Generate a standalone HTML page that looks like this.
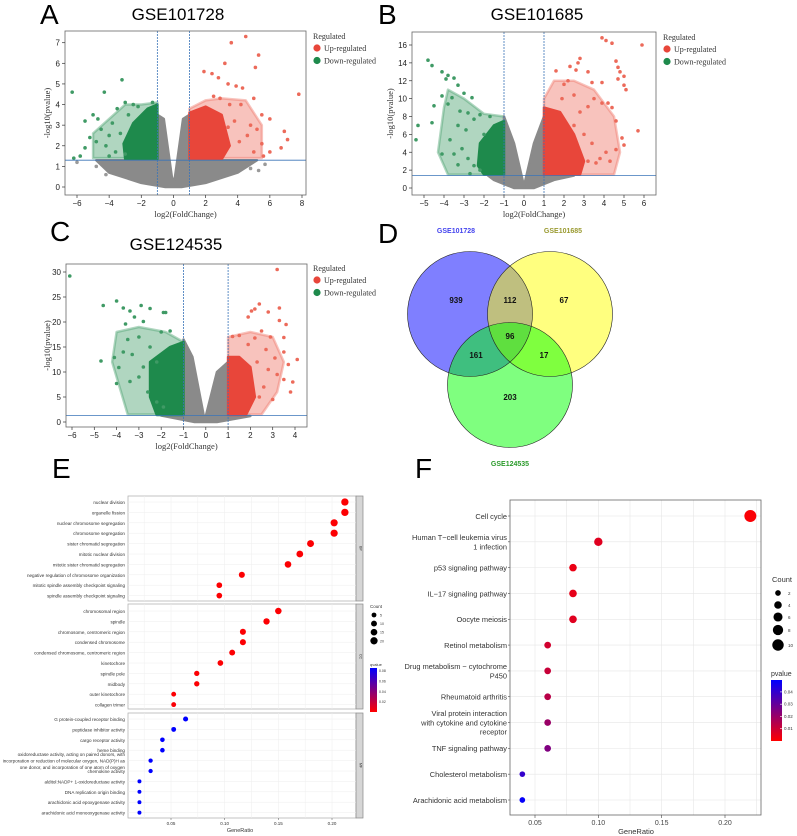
<!DOCTYPE html>
<html><head><meta charset="utf-8"><style>
html,body{margin:0;padding:0;background:#fff;}
svg{display:block;font-family:"Liberation Sans",sans-serif;}
.serif{font-family:"Liberation Serif",serif;}
</style></head><body>
<svg id="fig" width="797" height="836" viewBox="0 0 797 836" xmlns="http://www.w3.org/2000/svg">
<defs>
<linearGradient id="gradE" x1="0" y1="0" x2="0" y2="1"><stop offset="0" stop-color="#0000ff"/><stop offset="1" stop-color="#ff0000"/></linearGradient>
<linearGradient id="gradF" x1="0" y1="0" x2="0" y2="1"><stop offset="0" stop-color="#0000ff"/><stop offset="1" stop-color="#ff0000"/></linearGradient>
</defs>
<text x="40" y="24" font-size="28">A</text>
<text x="178" y="20" font-size="17" text-anchor="middle">GSE101728</text>
<text x="378" y="24" font-size="28">B</text>
<text x="537" y="20" font-size="17" text-anchor="middle">GSE101685</text>
<text x="50" y="241" font-size="28">C</text>
<text x="176" y="250" font-size="17" text-anchor="middle">GSE124535</text>
<text x="378" y="243" font-size="28">D</text>
<text x="52" y="478" font-size="28">E</text>
<text x="415" y="478" font-size="28">F</text>
<g id="root"></g>
</svg>
<script>
// ---------- Volcano data (log2FC, -log10 p) ----------
const aXTicks=[-6,-4,-2,0,2,4,6,8];
const aYTicks=[0,1,2,3,4,5,6,7];
const aGray=[[-4.8,1.3],[-1,1.3],[-1,3.5],[-0.6,3.3],[-0.1,0.5],[0,0.15],[0.1,0.5],[0.6,3.3],[1,3.5],[1,1.3],[5.2,1.3],[4,0.7],[2,0.2],[0.5,0],[-0.5,0],[-2,0.2],[-4,0.7]];
const aGreenHalo=[[-5,1.4],[-1,1.4],[-1,4.1],[-2,4],[-3,4],[-4,3.3],[-5,2.6]];
const aRedHalo=[[1,1.4],[5.5,1.4],[5.5,3],[4.5,4.2],[3,4.3],[2,4.2],[1,3.8]];
const aGreen=[[-3,1.35],[-1,1.35],[-1,4],[-1.6,3.8],[-2.5,3.1],[-3.1,2.1]];
const aRed=[[1,1.35],[3,1.35],[3.5,2],[3,3.5],[2,3.9],[1,3.6]];
const aDown=[[-6.3,4.6],[-4.3,4.6],[-3.2,5.2],[-5.5,3.2],[-5,3.5],[-4.7,3.3],[-4.5,2.8],[-4,2.5],[-3.8,3.1],[-3.5,3.8],[-3,4.1],[-2.5,4.0],[-2.8,3.5],[-5.5,1.9],[-5.8,1.5],[-6.2,1.4],[-4.8,2.2],[-4.2,2.0],[-3.3,2.6],[-3.6,1.7],[-2.2,3.9],[-1.3,4.1],[-3,1.6],[-4,1.5],[-5.2,2.4]];
const aUp=[[4.5,7.3],[3.6,7.0],[5.3,6.4],[5.1,5.8],[3.2,6.0],[1.9,5.6],[2.4,5.5],[2.8,5.3],[3.4,5.0],[3.9,4.9],[4.3,4.8],[7.8,4.5],[2.5,4.4],[2.9,4.3],[3.5,4.0],[4.2,4.0],[5,4.3],[5.5,3.5],[6,3.3],[5.2,2.8],[6.9,2.7],[7.1,2.3],[6.7,1.9],[6,1.7],[4.6,2.5],[3.8,3.2],[4.8,3.0],[5.5,2.1],[4.1,2.2],[3.4,2.9],[5,1.7],[5.6,1.5]];
const aNs=[[-6,1.2],[-4.8,1.0],[-4.2,0.6],[5.7,1.1],[4.8,0.9],[5.3,0.8]];

const bXTicks=[-5,-4,-3,-2,-1,0,1,2,3,4,5,6];
const bYTicks=[0,2,4,6,8,10,12,14,16];
const bGray=[[-1.8,1.4],[-1,1.4],[-1,8],[-0.5,5],[0,0.2],[0.5,5],[1,8],[1,1.4],[2.5,1.4],[1.5,0.9],[0.5,0],[-0.5,0],[-1.5,0.9]];
const bGreenHalo=[[-3.8,1.5],[-1,1.5],[-1,8],[-2,8.3],[-3,10],[-3.8,11],[-4,9],[-4.3,4]];
const bRedHalo=[[1,1.5],[4.5,1.5],[4.8,4],[4.5,8],[3.5,11],[2.5,12],[1.5,12],[1,10]];
const bGreen=[[-2,1.5],[-1,1.5],[-1,7.5],[-1.5,7],[-2.2,5],[-2.3,2.5]];
const bRed=[[1,1.5],[2.8,1.5],[3,3],[2.5,6],[1.8,8.5],[1,9]];
const bDown=[[-4.8,14.3],[-4.6,13.7],[-4.1,13.0],[-3.8,12.6],[-3.5,12.3],[-3.9,12.2],[-3.3,11.5],[-4.1,10.3],[-3.6,10.1],[-3.0,10.6],[-2.6,10.1],[-4.5,9.2],[-3.8,9.4],[-3.2,8.6],[-2.8,8.4],[-2.5,7.7],[-5.3,7.0],[-4.6,7.3],[-3.3,7.0],[-2.9,6.5],[-5.4,5.4],[-3.7,5.4],[-4.1,3.8],[-3.5,3.8],[-3.1,4.4],[-2.8,3.3],[-2.5,2.5],[-3.3,2.6],[-2.2,2.0],[-2.7,1.6],[-2,6],[-1.7,8],[-2.2,8.2]];
const bUp=[[3.9,16.8],[4.1,16.5],[4.4,16.2],[5.9,16.0],[2.8,14.5],[2.7,14.0],[2.3,13.6],[1.6,13.1],[2.6,13.2],[3.2,13.0],[4.6,14.2],[4.7,13.5],[4.8,13.0],[4.7,12.2],[5.0,12.5],[5.0,11.5],[5.1,11.0],[2.2,12.0],[3.4,11.8],[3.9,11.8],[2.0,11.6],[1.9,10.0],[2.5,10.4],[3.5,10.0],[3.9,9.5],[4.2,9.5],[4.4,9.0],[3.2,9.1],[2.8,8.5],[4.6,7.5],[5.7,6.4],[4.9,5.6],[5.0,4.8],[4.6,4.3],[4.1,4.0],[3.8,3.3],[3.6,2.8],[4.3,3.0],[3.2,3.0],[2.5,7.0],[3,6],[3.4,5]];
const bNs=[];

const cXTicks=[-6,-5,-4,-3,-2,-1,0,1,2,3,4];
const cYTicks=[0,5,10,15,20,25,30];
const cGray=[[-2,1.3],[-1,1.3],[-1,16.5],[-0.6,13],[-0.05,0.3],[0.5,10],[1,12],[1,1.3],[2,1.2],[0.5,0],[-0.5,0]];
const cGreenHalo=[[-3.5,1.5],[-1,1.5],[-1,16],[-1.8,18],[-3,19],[-4,18],[-4.2,12],[-3.8,6]];
const cRedHalo=[[1,1.5],[2.5,1.5],[3.2,6],[3.5,12],[3,17],[2,18],[1,17]];
const cGreen=[[-2.2,1.4],[-1,1.4],[-1,16],[-1.6,15],[-2.5,12],[-2.5,5]];
const cRed=[[1,1.4],[1.8,1.4],[2.2,5],[2,11],[1.5,13],[1,13]];
const cDown=[[-6.1,29.2],[-4,24.2],[-4.6,23.3],[-3.7,22.8],[-3.4,22.2],[-2.9,23.3],[-2.5,22.7],[-1.9,21.9],[-1.8,21.9],[-3.2,21],[-2.8,20.1],[-3.6,19.6],[-4.7,12.2],[-4.1,12.9],[-3.9,10.9],[-4,7.7],[-3.4,8.1],[-3,9],[-3.5,16.5],[-3,17],[-2.5,15],[-2,18],[-1.6,18.2],[-2.2,12],[-3.3,13.5],[-2.6,6],[-2.2,4],[-1.9,3],[-3.7,14],[-2.8,11]];
const cUp=[[3.2,30.5],[3.3,22.8],[2.4,23.6],[2.2,22.6],[2.05,22.2],[2.8,22],[1.9,21],[3.6,19.5],[3.3,20.3],[2.9,17],[3.5,16.9],[3.5,14],[4.1,12.5],[3.7,11.5],[3.2,9.5],[3.5,8.5],[3.9,8],[3.8,6],[3.0,4.5],[2.5,18.2],[2.2,16.8],[1.5,17.3],[1.2,17.1],[2.7,14.5],[2.3,12],[2.8,10.5],[3.1,12.8],[2.6,7],[2.4,5],[1.9,15.5]];
const cNs=[];

// ---------- Venn ----------
const vennSets=["GSE101728","GSE101685","GSE124535"];
const vennCounts=[939,112,67,96,161,17,203];

// ---------- GO (E) ----------
const goBP=["nuclear division","organelle fission","nuclear chromosome segregation","chromosome segregation","sister chromatid segregation","mitotic nuclear division","mitotic sister chromatid segregation","negative regulation of chromosome organization","mitotic spindle assembly checkpoint signaling","spindle assembly checkpoint signaling"];
const goBPRatio=[0.212,0.212,0.202,0.202,0.180,0.170,0.159,0.116,0.095,0.095];
const goBPCount=[20,20,19,19,17,16,15,11,9,9];
const goBPP=[0.001,0.001,0.001,0.001,0.001,0.001,0.001,0.001,0.001,0.001];
const goCC=["chromosomal region","spindle","chromosome, centromeric region","condensed chromosome","condensed chromosome, centromeric region","kinetochore","spindle pole","midbody","outer kinetochore","collagen trimer"];
const goCCRatio=[0.150,0.139,0.117,0.117,0.107,0.096,0.074,0.074,0.0525,0.0525];
const goCCCount=[14,13,11,11,10,9,7,7,5,5];
const goCCP=[0.001,0.001,0.001,0.001,0.001,0.001,0.001,0.001,0.001,0.002];
const goMF=["G protein-coupled receptor binding","peptidase inhibitor activity","cargo receptor activity","heme binding","oxidoreductase activity, acting on paired donors, with|incorporation or reduction of molecular oxygen, NAD(P)H as|one donor, and incorporation of one atom of oxygen","chemokine activity","alditol:NADP+ 1-oxidoreductase activity","DNA replication origin binding","arachidonic acid epoxygenase activity","arachidonic acid monooxygenase activity"];
const goMFRatio=[0.0636,0.0525,0.042,0.042,0.031,0.031,0.0206,0.0206,0.0206,0.0206];
const goMFCount=[6,5,4,4,3,3,2,2,2,2];
const goMFP=[0.085,0.085,0.085,0.085,0.085,0.085,0.085,0.085,0.085,0.085];
const goXTicks=[0.05,0.10,0.15,0.20];
const goCountLegend=[5,10,15,20];
const goPTicks=[0.08,0.06,0.04,0.02];

// ---------- KEGG (F) ----------
const kegg=["Cell cycle","Human T\u2212cell leukemia virus|1 infection","p53 signaling pathway","IL\u221217 signaling pathway","Oocyte meiosis","Retinol metabolism","Drug metabolism \u2212 cytochrome|P450","Rheumatoid arthritis","Viral protein interaction|with cytokine and cytokine|receptor","TNF signaling pathway","Cholesterol metabolism","Arachidonic acid metabolism"];
const keggRatio=[0.22,0.10,0.08,0.08,0.08,0.06,0.06,0.06,0.06,0.06,0.04,0.04];
const keggCount=[11,5,4,4,4,3,3,3,3,3,2,2];
const keggP=[0.001,0.006,0.004,0.005,0.006,0.009,0.011,0.014,0.02,0.025,0.04,0.049];
const keggXTicks=[0.05,0.10,0.15,0.20];
const keggCountLegend=[2,4,6,8,10];
const keggPTicks=[0.04,0.03,0.02,0.01];

const NS="http://www.w3.org/2000/svg";
const root=document.getElementById('root');
function mk(tag,attrs,parent){const e=document.createElementNS(NS,tag);for(const k in attrs)e.setAttribute(k,attrs[k]);(parent||root).appendChild(e);return e;}
function lin(d0,d1,p0,p1){return v=>p0+(v-d0)/(d1-d0)*(p1-p0);}
function pcolor(p,max){const t=Math.max(0,Math.min(1,p/max));return `rgb(${Math.round(255*(1-t))},0,${Math.round(255*t)})`;}

function volcano(id,cfg,d){
  const g=mk('g',{});
  
  
  const sx=lin(cfg.dx[0],cfg.dx[1],cfg.px[0],cfg.px[1]);
  const sy=lin(cfg.dy[0],cfg.dy[1],cfg.py[0],cfg.py[1]);
  const B=cfg.box;
  const poly=(pts,fill,name,op)=>{const p=mk('polygon',{points:pts.map(q=>sx(q[0])+','+sy(q[1])).join(' '),fill:fill,'fill-opacity':op,'stroke':fill,'stroke-opacity':op,'stroke-width':2.5,'stroke-linejoin':'round'},g);};
  poly(d.greenHalo,'#4fa573','down-scatter-zone',0.45);
  poly(d.redHalo,'#ef7b6c','up-scatter-zone',0.45);
  poly(d.gray,'#8a8a8a','ns-region',1);
  const dots=(pts,fill,name)=>pts.forEach(q=>{const c=mk('circle',{cx:sx(q[0]),cy:sy(q[1]),r:1.8,fill:fill},g);});
  dots(d.ns,'#9a9a9a','ns-point');
  poly(d.green,'#1e8a4c','down-region',1);
  poly(d.red,'#e8463a','up-region',1);
  dots(d.down,'#3f9a65','down-point');
  dots(d.up,'#ec6a5a','up-point');
  [-1,1].forEach(v=>{const l=mk('line',{x1:sx(v),x2:sx(v),y1:B[1],y2:B[3],stroke:'#3a74b8','stroke-width':0.8,'stroke-dasharray':'2,1'},g);});
  const h=mk('line',{x1:B[0],x2:B[2],y1:sy(cfg.pth),y2:sy(cfg.pth),stroke:'#3a74b8','stroke-width':0.8},g);
  const r=mk('rect',{x:B[0],y:B[1],width:B[2]-B[0],height:B[3]-B[1],fill:'none',stroke:'#666','stroke-width':0.8},g);
  d.xt.forEach(v=>{mk('line',{x1:sx(v),x2:sx(v),y1:B[3],y2:B[3]+3,stroke:'#333','stroke-width':0.7},g);const t=mk('text',{x:sx(v),y:B[3]+11,'font-size':8,'text-anchor':'middle',fill:'#222'},g);t.textContent=(v<0?'\u2212'+(-v):v);});
  d.yt.forEach(v=>{mk('line',{x1:B[0]-3,x2:B[0],y1:sy(v),y2:sy(v),stroke:'#333','stroke-width':0.7},g);const t=mk('text',{x:B[0]-5,y:sy(v)+3,'font-size':8,'text-anchor':'end',fill:'#222'},g);t.textContent=v;});
  const xl=mk('text',{x:(B[0]+B[2])/2,y:B[3]+22,'font-size':8.5,'text-anchor':'middle',class:'serif',fill:'#333'},g);xl.textContent='log2(FoldChange)';
  const yx=cfg.ylabX;const yy=(B[1]+B[3])/2;
  const yl=mk('text',{x:yx,y:yy,'font-size':8.5,'text-anchor':'middle',class:'serif',fill:'#333',transform:`rotate(-90 ${yx} ${yy})`},g);yl.textContent='-log10(pvalue)';
  const L=cfg.leg;
  const lt=mk('text',{x:L[0],y:L[1],'font-size':8,class:'serif',fill:'#333'},g);lt.textContent='Regulated';
  [['Up-regulated','#e8463a'],['Down-regulated','#1e8a4c']].forEach((e,i)=>{const yy2=L[1]+12+i*12.5;const c=mk('circle',{cx:L[0]+4,cy:yy2-3,r:3.6,fill:e[1]},g);const t=mk('text',{x:L[0]+11,y:yy2,'font-size':8,class:'serif',fill:'#333'},g);t.textContent=e[0];});
}
volcano('a',{dx:[-6,8],px:[77,302],dy:[0,7],py:[187,42.7],box:[65,31,306,195],pth:1.3,ylabX:50,leg:[313,39]},{gray:aGray,greenHalo:aGreenHalo,redHalo:aRedHalo,green:aGreen,red:aRed,down:aDown,up:aUp,ns:aNs,xt:aXTicks,yt:aYTicks});
volcano('b',{dx:[-5,6],px:[424,644],dy:[0,16],py:[188,45],box:[412,32,656,195],pth:1.4,ylabX:393,leg:[663,40]},{gray:bGray,greenHalo:bGreenHalo,redHalo:bRedHalo,green:bGreen,red:bRed,down:bDown,up:bUp,ns:bNs,xt:bXTicks,yt:bYTicks});
volcano('c',{dx:[-6,4],px:[72,295],dy:[0,30],py:[422,272],box:[66,264,307,427],pth:1.3,ylabX:50,leg:[313,271]},{gray:cGray,greenHalo:cGreenHalo,redHalo:cRedHalo,green:cGreen,red:cRed,down:cDown,up:cUp,ns:cNs,xt:cXTicks,yt:cYTicks});

// ---------- Venn ----------
(function(){
  const g=mk('g',{});
  const circ=[[470,314,'#0000ff'],[550,314,'#ffff00'],[510,385,'#00ff00']];
  circ.forEach((c,i)=>{const e=mk('circle',{cx:c[0],cy:c[1],r:62.5,fill:c[2],'fill-opacity':0.5,stroke:'none'},g);});
  circ.forEach(c=>mk('circle',{cx:c[0],cy:c[1],r:62.5,fill:'none',stroke:'#222','stroke-width':0.6},g));
  const lp=[[456,233,'#4444ee'],[563,233,'#9a9a30'],[510,466,'#2a9a2a']];
  vennSets.forEach((s,i)=>{const t=mk('text',{x:lp[i][0],y:lp[i][1],'font-size':7,'font-weight':'bold','text-anchor':'middle',fill:lp[i][2]},g);t.textContent=s;});
  const np=[[456,303],[510,303],[564,303],[510,339],[476,358],[544,358],[510,400]];
  vennCounts.forEach((v,i)=>{const t=mk('text',{x:np[i][0],y:np[i][1],'font-size':8,'font-weight':'bold','text-anchor':'middle',fill:'#111'},g);t.textContent=v;});
})();

// ---------- E: GO dot plot ----------
(function(){
  const g=mk('g',{});
  const sx=lin(0.05,0.20,171,332);
  const X0=128,X1=356;
  const panels=[[goBP,goBPRatio,goBPCount,goBPP,496,601,502,'BP'],[goCC,goCCRatio,goCCCount,goCCP,604,709,611,'CC'],[goMF,goMFRatio,goMFCount,goMFP,713,818,719,'MF']];
  const rr=c=>1.2+Math.sqrt(c)*0.55;
  panels.forEach(P=>{
    mk('rect',{x:X0,y:P[4],width:X1-X0,height:P[5]-P[4],fill:'#fff',stroke:'#aaa','stroke-width':0.7},g);
    const s=mk('rect',{x:X1,y:P[4],width:7,height:P[5]-P[4],fill:'#d6d6d6',stroke:'#888','stroke-width':0.7},g);
    const st=mk('text',{x:X1+3.5,y:(P[4]+P[5])/2,'font-size':3.5,'text-anchor':'middle',fill:'#333',transform:`rotate(90 ${X1+3.5} ${(P[4]+P[5])/2})`},g);st.textContent=P[7];
    [0.025,0.05,0.075,0.10,0.125,0.15,0.175,0.20].forEach(v=>mk('line',{x1:sx(v),x2:sx(v),y1:P[4],y2:P[5],stroke:'#eee','stroke-width':0.5},g));
    P[0].forEach((lab,i)=>{
      const y=P[6]+i*10.4;
      mk('line',{x1:X0,x2:X1,y1:y,y2:y,stroke:'#eee','stroke-width':0.5},g);
      const lines=lab.split('|');
      lines.forEach((ln,k)=>{const t=mk('text',{x:X0-3,y:y+2+(k-(lines.length-1)/2)*6.5,'font-size':4.6,'text-anchor':'end',fill:'#333'},g);t.textContent=ln;});
      const c=mk('circle',{cx:sx(P[1][i]),cy:y,r:rr(P[2][i]),fill:pcolor(P[3][i],0.085)},g);
      
      
    });
  });
  goXTicks.forEach(v=>{mk('line',{x1:sx(v),x2:sx(v),y1:818,y2:820,stroke:'#555','stroke-width':0.5},g);const t=mk('text',{x:sx(v),y:825,'font-size':4.5,'text-anchor':'middle',fill:'#333'},g);t.textContent=v.toFixed(2);});
  const xl=mk('text',{x:240,y:832,'font-size':5.5,'text-anchor':'middle',fill:'#333'},g);xl.textContent='GeneRatio';
  const ct=mk('text',{x:370,y:608,'font-size':4.5,fill:'#333'},g);ct.textContent='Count';
  goCountLegend.forEach((v,i)=>{const y=615+i*8.6;const c=mk('circle',{cx:374,cy:y,r:rr(v),fill:'#000'},g);const t=mk('text',{x:380,y:y+1.5,'font-size':3.5,fill:'#333'},g);t.textContent=v;});
  const pt=mk('text',{x:370,y:666,'font-size':4,fill:'#333'},g);pt.textContent='qvalue';
  const cb=mk('rect',{x:370,y:668,width:7,height:44,fill:'url(#gradE)'},g);
  const sp=lin(0,0.085,712,668);
  goPTicks.forEach(v=>{const t=mk('text',{x:379,y:sp(v)+1.5,'font-size':3.5,fill:'#333'},g);t.textContent=v.toFixed(2);});
})();

// ---------- F: KEGG dot plot ----------
(function(){
  const g=mk('g',{});
  const sx=lin(0.05,0.20,535,725);
  const sy=lin(0,11,516,800);
  const X0=510,X1=761,Y0=500,Y1=815;
  mk('rect',{x:X0,y:Y0,width:X1-X0,height:Y1-Y0,fill:'#fff'},g);
  [0.025,0.05,0.075,0.10,0.125,0.15,0.175,0.20,0.225].forEach(v=>{if(sx(v)>X0&&sx(v)<X1)mk('line',{x1:sx(v),x2:sx(v),y1:Y0,y2:Y1,stroke:'#e6e6e6','stroke-width':0.6},g);});
  const rr=c=>0.5+Math.sqrt(c)*1.65;
  kegg.forEach((lab,i)=>{
    const y=sy(i);
    mk('line',{x1:X0,x2:X1,y1:y,y2:y,stroke:'#e6e6e6','stroke-width':0.6},g);
    mk('line',{x1:X0-2,x2:X0,y1:y,y2:y,stroke:'#444','stroke-width':0.6},g);
    const lines=lab.split('|');
    lines.forEach((ln,k)=>{const t=mk('text',{x:X0-3,y:y+2.8+(k-(lines.length-1)/2)*9.3,'font-size':7.4,'text-anchor':'end',fill:'#333'},g);t.textContent=ln;});
    const c=mk('circle',{cx:sx(keggRatio[i]),cy:y,r:rr(keggCount[i]),fill:pcolor(keggP[i],0.05)},g);
    
    
  });
  const fr=mk('rect',{x:X0,y:Y0,width:X1-X0,height:Y1-Y0,fill:'none',stroke:'#666','stroke-width':0.8},g);
  keggXTicks.forEach(v=>{mk('line',{x1:sx(v),x2:sx(v),y1:Y1,y2:Y1+3,stroke:'#444','stroke-width':0.6},g);const t=mk('text',{x:sx(v),y:Y1+10,'font-size':7,'text-anchor':'middle',fill:'#444'},g);t.textContent=v.toFixed(2);});
  const xl=mk('text',{x:636,y:834,'font-size':7.5,'text-anchor':'middle',fill:'#333'},g);xl.textContent='GeneRatio';
  const ct=mk('text',{x:772,y:582,'font-size':7.5,fill:'#333'},g);ct.textContent='Count';
  const ly=[593,605,617,630,645];
  keggCountLegend.forEach((v,i)=>{const c=mk('circle',{cx:778,cy:ly[i],r:rr(v),fill:'#000'},g);const t=mk('text',{x:788,y:ly[i]+2,'font-size':4.5,fill:'#333'},g);t.textContent=v;});
  const pt=mk('text',{x:771,y:676,'font-size':7,fill:'#333'},g);pt.textContent='pvalue';
  const cb=mk('rect',{x:771,y:680,width:11,height:61,fill:'url(#gradF)'},g);
  const sp=lin(0,0.0497,741,680);
  keggPTicks.forEach(v=>{mk('line',{x1:780,x2:782,y1:sp(v),y2:sp(v),stroke:'#fff','stroke-width':0.6},g);const t=mk('text',{x:784,y:sp(v)+1.5,'font-size':4.5,fill:'#333'},g);t.textContent=v.toFixed(2);});
})();
</script>
</body></html>
